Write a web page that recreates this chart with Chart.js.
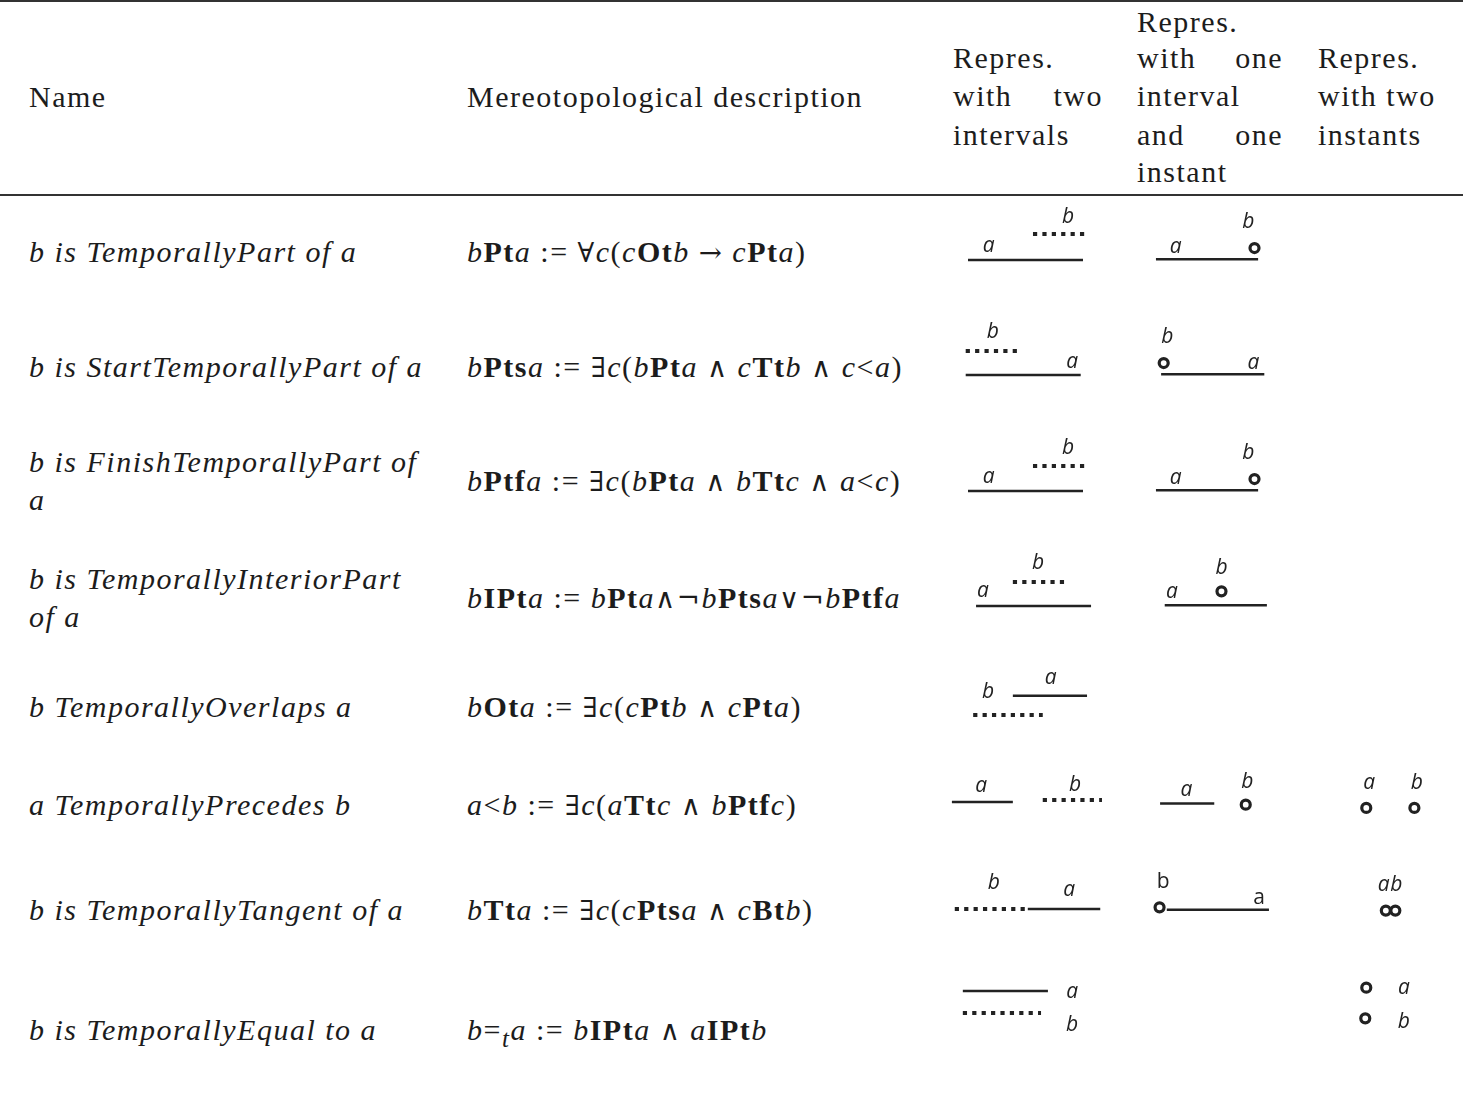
<!doctype html>
<html lang="en">
<head>
  <meta charset="utf-8">
  <title>Temporal relations</title>
  <script src="https://cdn.jsdelivr.net/npm/chart.js"></script>
  <style>
    body { margin: 0; background: #fff; }
    #page { position: relative; width: 1463px; height: 1098px; overflow: hidden; background: #fff; }
    .t { position: absolute; font-family: "Liberation Serif", serif; font-size: 30px; line-height: 38px;
         white-space: nowrap; color: #1c1c1c; letter-spacing: 0.05em; }
    .it { font-style: italic; }
    .m { font-family: "DejaVu Serif", serif; font-weight: normal; font-style: normal; font-size: 0.92em; }
    .just { display: flex; justify-content: space-between; }
    .rule { position: absolute; left: 0; width: 1463px; height: 2px; background: #333; }
    canvas { position: absolute; }
  </style>
</head>
<body>
<div id="page">
  <div class="rule" style="top:0"></div>
  <div class="rule" style="top:194px"></div>

  <div class="t" style="left:29px;top:78px">Name</div>
  <div class="t" style="left:467px;top:78px">Mereotopological description</div>

  <div class="t" style="left:953px;top:39px">Repres.</div>
  <div class="t just" style="left:953px;top:77px;width:150px"><span>with</span><span>two</span></div>
  <div class="t" style="left:953px;top:116px">intervals</div>

  <div class="t" style="left:1137px;top:3px">Repres.</div>
  <div class="t just" style="left:1137px;top:39px;width:146px"><span>with</span><span>one</span></div>
  <div class="t" style="left:1137px;top:77px">interval</div>
  <div class="t just" style="left:1137px;top:116px;width:146px"><span>and</span><span>one</span></div>
  <div class="t" style="left:1137px;top:153px">instant</div>

  <div class="t" style="left:1318px;top:39px">Repres.</div>
  <div class="t" style="left:1318px;top:77px">with two</div>
  <div class="t" style="left:1318px;top:116px">instants</div>
</div>

<script>
  // relation names (one entry per row, split in lines as in the table)
  const names = [
    ['b is TemporallyPart of a'],
    ['b is StartTemporallyPart of a'],
    ['b is FinishTemporallyPart of', 'a'],
    ['b is TemporallyInteriorPart', 'of a'],
    ['b TemporallyOverlaps a'],
    ['a TemporallyPrecedes b'],
    ['b is TemporallyTangent of a'],
    ['b is TemporallyEqual to a']
  ];

  // math symbols get their own font, the Liberation one lacks them
  const ALL = '<span class="m">∀</span>', EX = '<span class="m">∃</span>';
  const AND = '<span class="m">∧</span>', OR = '<span class="m">∨</span>';
  const NOT = '<span class="m">¬</span>', TO = '<span class="m">→</span>';

  const formulas = [
    '<i>b</i><b>Pt</b><i>a</i> := ' + ALL + '<i>c</i>(<i>c</i><b>Ot</b><i>b</i> ' + TO + ' <i>c</i><b>Pt</b><i>a</i>)',
    '<i>b</i><b>Pts</b><i>a</i> := ' + EX + '<i>c</i>(<i>b</i><b>Pt</b><i>a</i> ' + AND + ' <i>c</i><b>Tt</b><i>b</i> ' + AND + ' <i>c</i>&lt;<i>a</i>)',
    '<i>b</i><b>Ptf</b><i>a</i> := ' + EX + '<i>c</i>(<i>b</i><b>Pt</b><i>a</i> ' + AND + ' <i>b</i><b>Tt</b><i>c</i> ' + AND + ' <i>a</i>&lt;<i>c</i>)',
    '<i>b</i><b>IPt</b><i>a</i> := <i>b</i><b>Pt</b><i>a</i>' + AND + NOT + '<i>b</i><b>Pts</b><i>a</i>' + OR + NOT + '<i>b</i><b>Ptf</b><i>a</i>',
    '<i>b</i><b>Ot</b><i>a</i> := ' + EX + '<i>c</i>(<i>c</i><b>Pt</b><i>b</i> ' + AND + ' <i>c</i><b>Pt</b><i>a</i>)',
    '<i>a</i>&lt;<i>b</i> := ' + EX + '<i>c</i>(<i>a</i><b>Tt</b><i>c</i> ' + AND + ' <i>b</i><b>Ptf</b><i>c</i>)',
    '<i>b</i><b>Tt</b><i>a</i> := ' + EX + '<i>c</i>(<i>c</i><b>Pts</b><i>a</i> ' + AND + ' <i>c</i><b>Bt</b><i>b</i>)',
    '<i>b</i>=<sub><i>t</i></sub><i>a</i> := <i>b</i><b>IPt</b><i>a</i> ' + AND + ' <i>a</i><b>IPt</b><i>b</i>'
  ];

  // diagrams: x in time units, y in levels above the main line of the row
  // interval = [from, to, level], instant = [at, level], label = [x, level]
  const twoIntervals = [
    { a: [4, 24, 0], b: [15.3, 24.3, 1.08], la: [7.6, 0.58], lb: [21.4, 1.8] },
    { a: [3.6, 23.6, 0], b: [3.6, 12.7, 1.0], la: [22.1, 0.54], lb: [8.3, 1.8] },
    { a: [4, 24, 0], b: [15.3, 24.3, 1.04], la: [7.6, 0.58], lb: [21.4, 1.8] },
    { a: [5.4, 25.4, 0], b: [11.8, 20.9, 1.0], la: [6.6, 0.63], lb: [16.2, 1.8] },
    { a: [11.8, 24.7, 0.8], b: [4.9, 17.0, 0], la: [18.4, 1.54], lb: [7.5, 0.96] },
    { a: [1.2, 11.8, 0], b: [17.0, 27.3, 0.08], la: [6.3, 0.67], lb: [22.6, 0.7] },
    { a: [14.4, 27.0, 0], b: [1.7, 14.1, 0], la: [21.6, 0.8], lb: [8.5, 1.08] },
    { a: [3.1, 17.9, 0], b: [3.1, 16.7, -0.92], la: [22.1, -0.04], lb: [22.1, -1.4] }
  ];

  const intervalInstant = [
    { a: [1.6, 21.4, 0], b: [20.7, 0.54], la: [5.4, 0.58], lb: [19.5, 1.8] },
    { a: [2.6, 22.6, 0], b: [3.1, 0.54], la: [20.5, 0.54], lb: [3.8, 1.8] },
    { a: [1.6, 21.4, 0], b: [20.7, 0.54], la: [5.4, 0.58], lb: [19.5, 1.8] },
    { a: [3.3, 23.1, 0], b: [14.3, 0.67], la: [4.7, 0.63], lb: [14.3, 1.8] },
    null,
    { a: [2.4, 12.9, -0.12], b: [19.0, -0.17], la: [7.5, 0.54], lb: [19.3, 0.92] },
    { a: [3.7, 23.5, -0.08], b: [2.3, 0.04], la: [21.6, 0.5], lb: [3.0, 1.29], upright: true },
    null
  ];

  const twoInstants = [
    null, null, null, null, null,
    { a: [5.7, -0.33], b: [15.3, -0.33], la: [6.3, 0.87], lb: [15.8, 0.87] },
    { a: [9.6, -0.12], b: [11.5, -0.12], la: [9.2, 1.12], lb: [11.7, 1.12] },
    { a: [5.7, 0.12], b: [5.5, -1.37], la: [13.2, 0.12], lb: [13.2, -1.54] }
  ];

  // layout
  const rowY = [252, 367, 481, 598, 707, 805, 910, 1030];
  const lineY = [260, 375, 491, 606, 715, 802, 909, 991];
  const PX_PER_UNIT = 5.75;
  const PX_PER_LEVEL = 24;
  const LEVEL_MIN = -2, LEVEL_MAX = 2.5;
  const INK = '#222';

  const page = document.getElementById('page');

  names.forEach(function (lines, i) {
    const top0 = rowY[i] - lines.length * 19;
    lines.forEach(function (txt, k) {
      const d = document.createElement('div');
      d.className = 't it';
      d.style.left = '29px';
      d.style.top = (top0 + k * 38) + 'px';
      d.textContent = txt;
      page.appendChild(d);
    });
  });

  formulas.forEach(function (html, i) {
    const d = document.createElement('div');
    d.className = 't';
    d.style.left = '467px';
    d.style.top = (rowY[i] - 19) + 'px';
    d.innerHTML = html;
    page.appendChild(d);
  });

  // letters a / b next to the marks
  const letters = {
    id: 'letters',
    afterDatasetsDraw(chart, args, opts) {
      const ctx = chart.ctx;
      const x = chart.scales.x, y = chart.scales.y;
      ctx.save();
      ctx.fillStyle = INK;
      ctx.font = (opts.upright ? '' : 'italic ') + '21px "Open Sans", "DejaVu Sans", sans-serif';
      ctx.textAlign = 'center';
      ctx.textBaseline = 'middle';
      opts.items.forEach(function (t) {
        ctx.fillText(t.text, x.getPixelForValue(t.x), y.getPixelForValue(t.y));
      });
      ctx.restore();
    }
  };

  function interval(iv, dotted) {
    return {
      data: [{ x: iv[0], y: iv[2] }, { x: iv[1], y: iv[2] }],
      showLine: true,
      borderColor: INK,
      borderWidth: dotted ? 4 : 2.5,
      borderDash: dotted ? [4.2, 5.2] : [],
      borderCapStyle: 'butt',
      pointRadius: 0
    };
  }

  function instant(p) {
    return {
      data: [{ x: p[0], y: p[1] }],
      showLine: false,
      pointRadius: 4.5,
      pointBorderWidth: 3.2,
      pointBackgroundColor: '#fff',
      pointBorderColor: INK
    };
  }

  function drawCell(spec, kind, row, left, width) {
    if (!spec) return;
    const height = (LEVEL_MAX - LEVEL_MIN) * PX_PER_LEVEL;
    const cv = document.createElement('canvas');
    cv.width = width;
    cv.height = height;
    cv.style.left = left + 'px';
    cv.style.top = (lineY[row] - LEVEL_MAX * PX_PER_LEVEL) + 'px';
    page.appendChild(cv);

    let datasets;
    if (kind === 'II') datasets = [interval(spec.a, false), interval(spec.b, true)];
    else if (kind === 'IT') datasets = [interval(spec.a, false), instant(spec.b)];
    else datasets = [instant(spec.a), instant(spec.b)];

    new Chart(cv, {
      type: 'scatter',
      data: { datasets: datasets },
      options: {
        responsive: false,
        animation: false,
        devicePixelRatio: 1,
        events: [],
        layout: { padding: 0 },
        scales: {
          x: { type: 'linear', display: false, min: 0, max: width / PX_PER_UNIT },
          y: { type: 'linear', display: false, min: LEVEL_MIN, max: LEVEL_MAX }
        },
        plugins: {
          legend: { display: false },
          tooltip: { enabled: false },
          letters: {
            upright: !!spec.upright,
            items: [
              { text: 'a', x: spec.la[0], y: spec.la[1] },
              { text: 'b', x: spec.lb[0], y: spec.lb[1] }
            ]
          }
        }
      },
      plugins: [letters]
    });
  }

  for (let r = 0; r < 8; r++) {
    drawCell(twoIntervals[r], 'II', r, 945, 172);
    drawCell(intervalInstant[r], 'IT', r, 1140, 150);
    drawCell(twoInstants[r], 'TT', r, 1330, 120);
  }
</script>
</body>
</html>
